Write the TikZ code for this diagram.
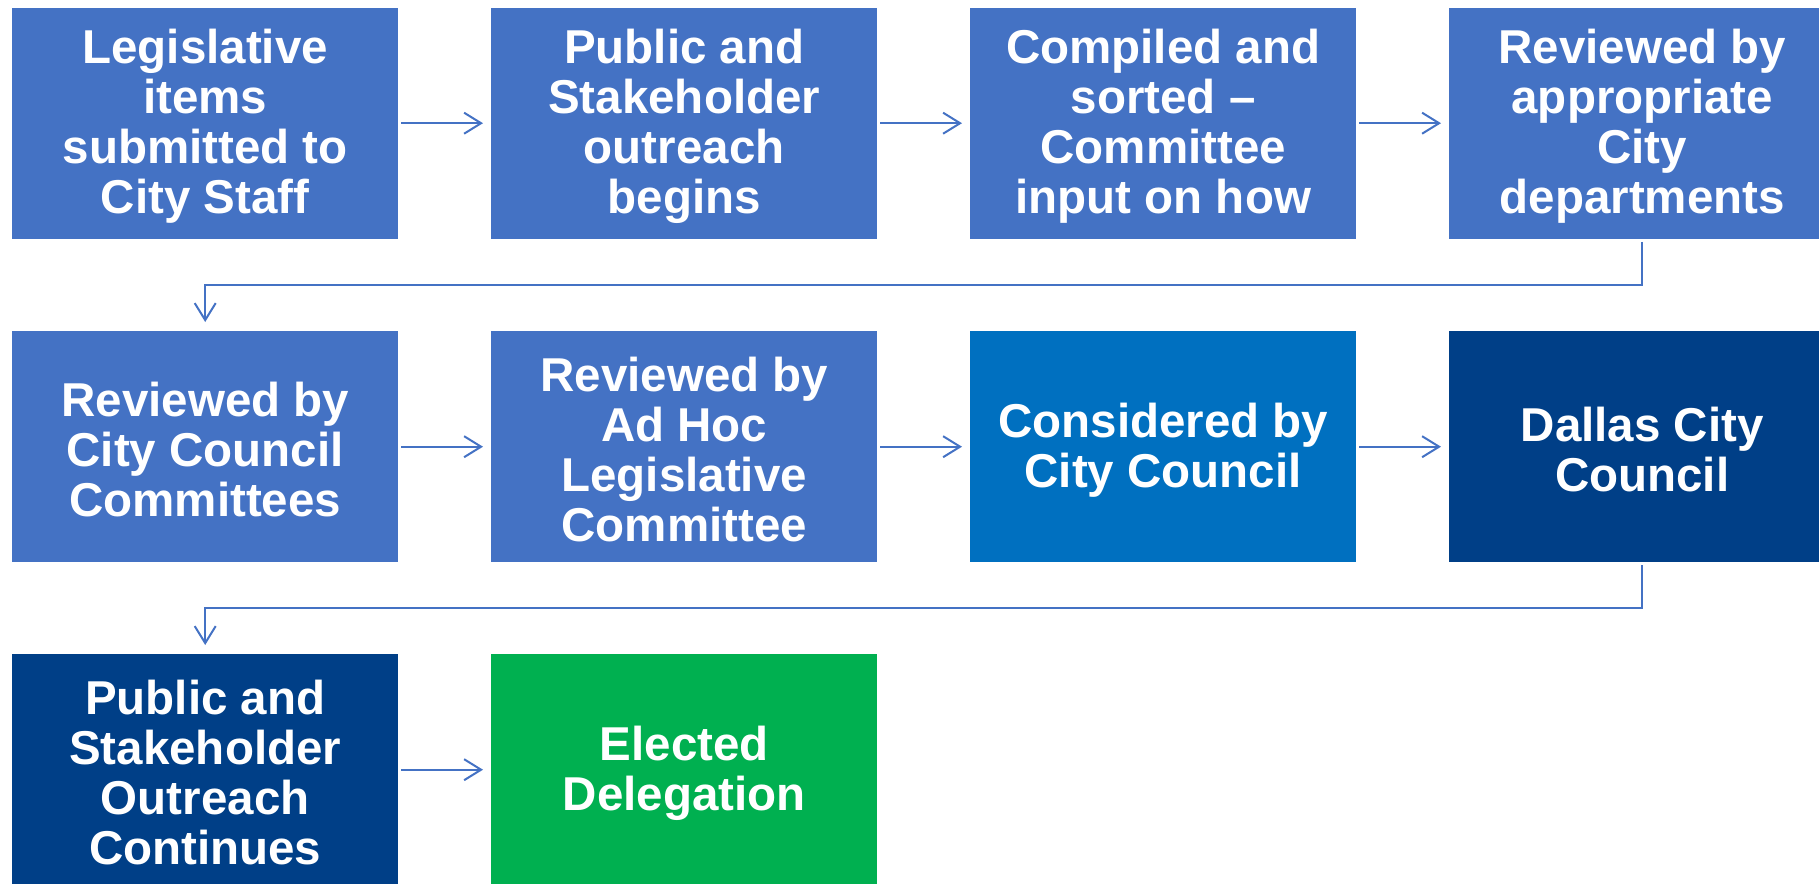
\documentclass[tikz,border=0pt]{standalone}
\usepackage{fontspec}
\setmainfont{Liberation Sans}
\usetikzlibrary{arrows.meta}
\definecolor{boxblue}{HTML}{4472C4}
\definecolor{midblue}{HTML}{0070C0}
\definecolor{navyblue}{HTML}{003F87}
\definecolor{boxgreen}{HTML}{00B050}
\newcommand{\topstrut}{\rule{0pt}{41pt}}
\tikzset{
  stepbox/.style={rectangle, anchor=north west, minimum width=386pt, minimum height=231pt,
    inner sep=0pt, text=white, align=center,
    font=\fontsize{47.5pt}{50pt}\selectfont\bfseries},
  arr/.style={draw=boxblue, line width=2pt, -{Straight Barb[length=17pt,width=21pt,line width=2pt]}},
  harr/.style={arr, shorten <=3pt, shorten >=8pt},
  varr/.style={arr, shorten <=3pt, shorten >=9pt}
}
\begin{document}
\begin{tikzpicture}[x=1pt,y=-1pt]
\useasboundingbox (0,0) rectangle (1819,883);
\node[stepbox, fill=boxblue] (b1) at (12,7.5) {\topstrut Legislative\\items\\submitted to\\City Staff};
\node[stepbox, fill=boxblue] (b2) at (491,7.5) {\topstrut Public and\\Stakeholder\\outreach\\begins};
\node[stepbox, fill=boxblue] (b3) at (970,7.5) {\topstrut Compiled and\\sorted --\\Committee\\input on how};
\node[stepbox, fill=boxblue] (b4) at (1449,7.5) {\topstrut Reviewed by\\appropriate\\City\\departments};
\node[stepbox, fill=boxblue] (b5) at (12,331) {\topstrut Reviewed by\\City Council\\Committees};
\node[stepbox, fill=boxblue] (b6) at (491,331) {\topstrut Reviewed by\\Ad Hoc\\Legislative\\Committee};
\node[stepbox, fill=midblue] (b7) at (970,331) {\topstrut Considered by\\City Council};
\node[stepbox, fill=navyblue] (b8) at (1449,331) {\topstrut Dallas City\\Council};
\node[stepbox, fill=navyblue] (b9) at (12,654) {\topstrut Public and\\Stakeholder\\Outreach\\Continues};
\node[stepbox, fill=boxgreen] (b10) at (491,654) {\topstrut Elected\\Delegation};
\coordinate (m1) at (0,285);
\coordinate (m2) at (0,608);
\draw[harr] (b1.east) -- (b2.west);
\draw[harr] (b2.east) -- (b3.west);
\draw[harr] (b3.east) -- (b4.west);
\draw[varr] (b4.south) -- (b4.south |- m1) -| (b5.north);
\draw[harr] (b5.east) -- (b6.west);
\draw[harr] (b6.east) -- (b7.west);
\draw[harr] (b7.east) -- (b8.west);
\draw[varr] (b8.south) -- (b8.south |- m2) -| (b9.north);
\draw[harr] (b9.east) -- (b10.west);
\end{tikzpicture}
\end{document}
